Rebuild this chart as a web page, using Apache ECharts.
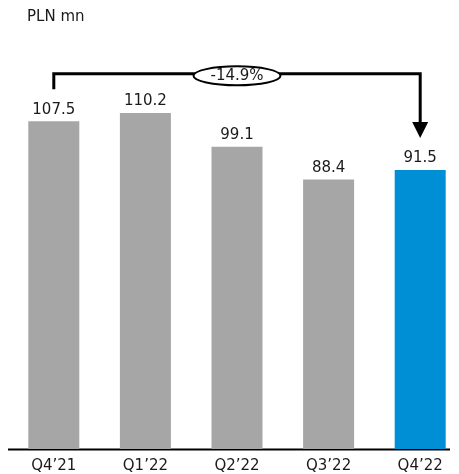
<!DOCTYPE html>
<html><head><meta charset="utf-8">
<script src="https://cdn.jsdelivr.net/npm/echarts@6/dist/echarts.min.js"></script>
<style>html,body{margin:0;padding:0;background:#fff}#c{width:459px;height:474px}</style>
</head><body><div id="c"></div>
<script>
const categories = ["Q4\u201921","Q1\u201922","Q2\u201922","Q3\u201922","Q4\u201922"];
const values = [107.5, 110.2, 99.1, 88.4, 91.5];
const barColors = ["#A6A6A6","#A6A6A6","#A6A6A6","#A6A6A6","#008FD5"];
const changeLabel = "-14.9%";
const unitLabel = "PLN mn";
const FONT = "DejaVu Sans";

const chart = echarts.init(document.getElementById('c'));
chart.setOption({
  animation: false,
  grid: {left: 8, top: 22, width: 458, height: 427, outerBoundsMode: 'none', containLabel: false},
  title: {text: unitLabel, left: 27, top: 10, padding: 0, textStyle: {fontFamily: FONT, fontSize: 15, fontWeight: 'normal', color: '#1a1a1a'}},
  xAxis: {type: 'category', data: categories,
    axisLine: {show: false}, axisTick: {show: false},
    axisLabel: {fontFamily: FONT, fontSize: 15, color: '#1a1a1a', margin: 10}},
  yAxis: {type: 'value', min: 0, max: 140, show: false, splitLine: {show: false}},
  series: [{type: 'bar', barWidth: 51,
    data: values.map((v, i) => ({value: v, itemStyle: {color: barColors[i]}})),
    label: {show: true, position: 'top', distance: 4, fontFamily: FONT, fontSize: 15, color: '#1a1a1a'}}]
});

function drawOverlay() {
  const first = chart.convertToPixel({seriesIndex: 0}, [0, values[0]]);
  const last = chart.convertToPixel({seriesIndex: 0}, [values.length - 1, values[values.length - 1]]);
  const bracketY = chart.convertToPixel({yAxisIndex: 0}, 123);
  const axisY = chart.convertToPixel({yAxisIndex: 0}, 0);
  const gap = 32;
  const midX = 237;
  chart.setOption({graphic: [
    {type: 'line', shape: {x1: 8, y1: axisY + 0.5, x2: 450, y2: axisY + 0.5}, style: {stroke: '#000', lineWidth: 2}},
    {type: 'polyline', shape: {points: [[first[0], first[1] - gap], [first[0], bracketY], [last[0], bracketY], [last[0], last[1] - gap - 14]]},
      style: {stroke: '#000', lineWidth: 3, fill: null}},
    {type: 'polygon', shape: {points: [[last[0] - 8, last[1] - gap - 16], [last[0] + 8, last[1] - gap - 16], [last[0], last[1] - gap]]},
      style: {fill: '#000'}},
    {type: 'ellipse', shape: {cx: midX, cy: bracketY + 2, rx: 43.5, ry: 9.5}, style: {fill: '#fff', stroke: '#000', lineWidth: 2}, z: 10},
    {type: 'text', x: midX, y: bracketY + 2, z: 11,
      style: {text: changeLabel, fontFamily: FONT, fontSize: 15, fill: '#1a1a1a', align: 'center', verticalAlign: 'middle'}}
  ]});
}
drawOverlay();
</script></body></html>
